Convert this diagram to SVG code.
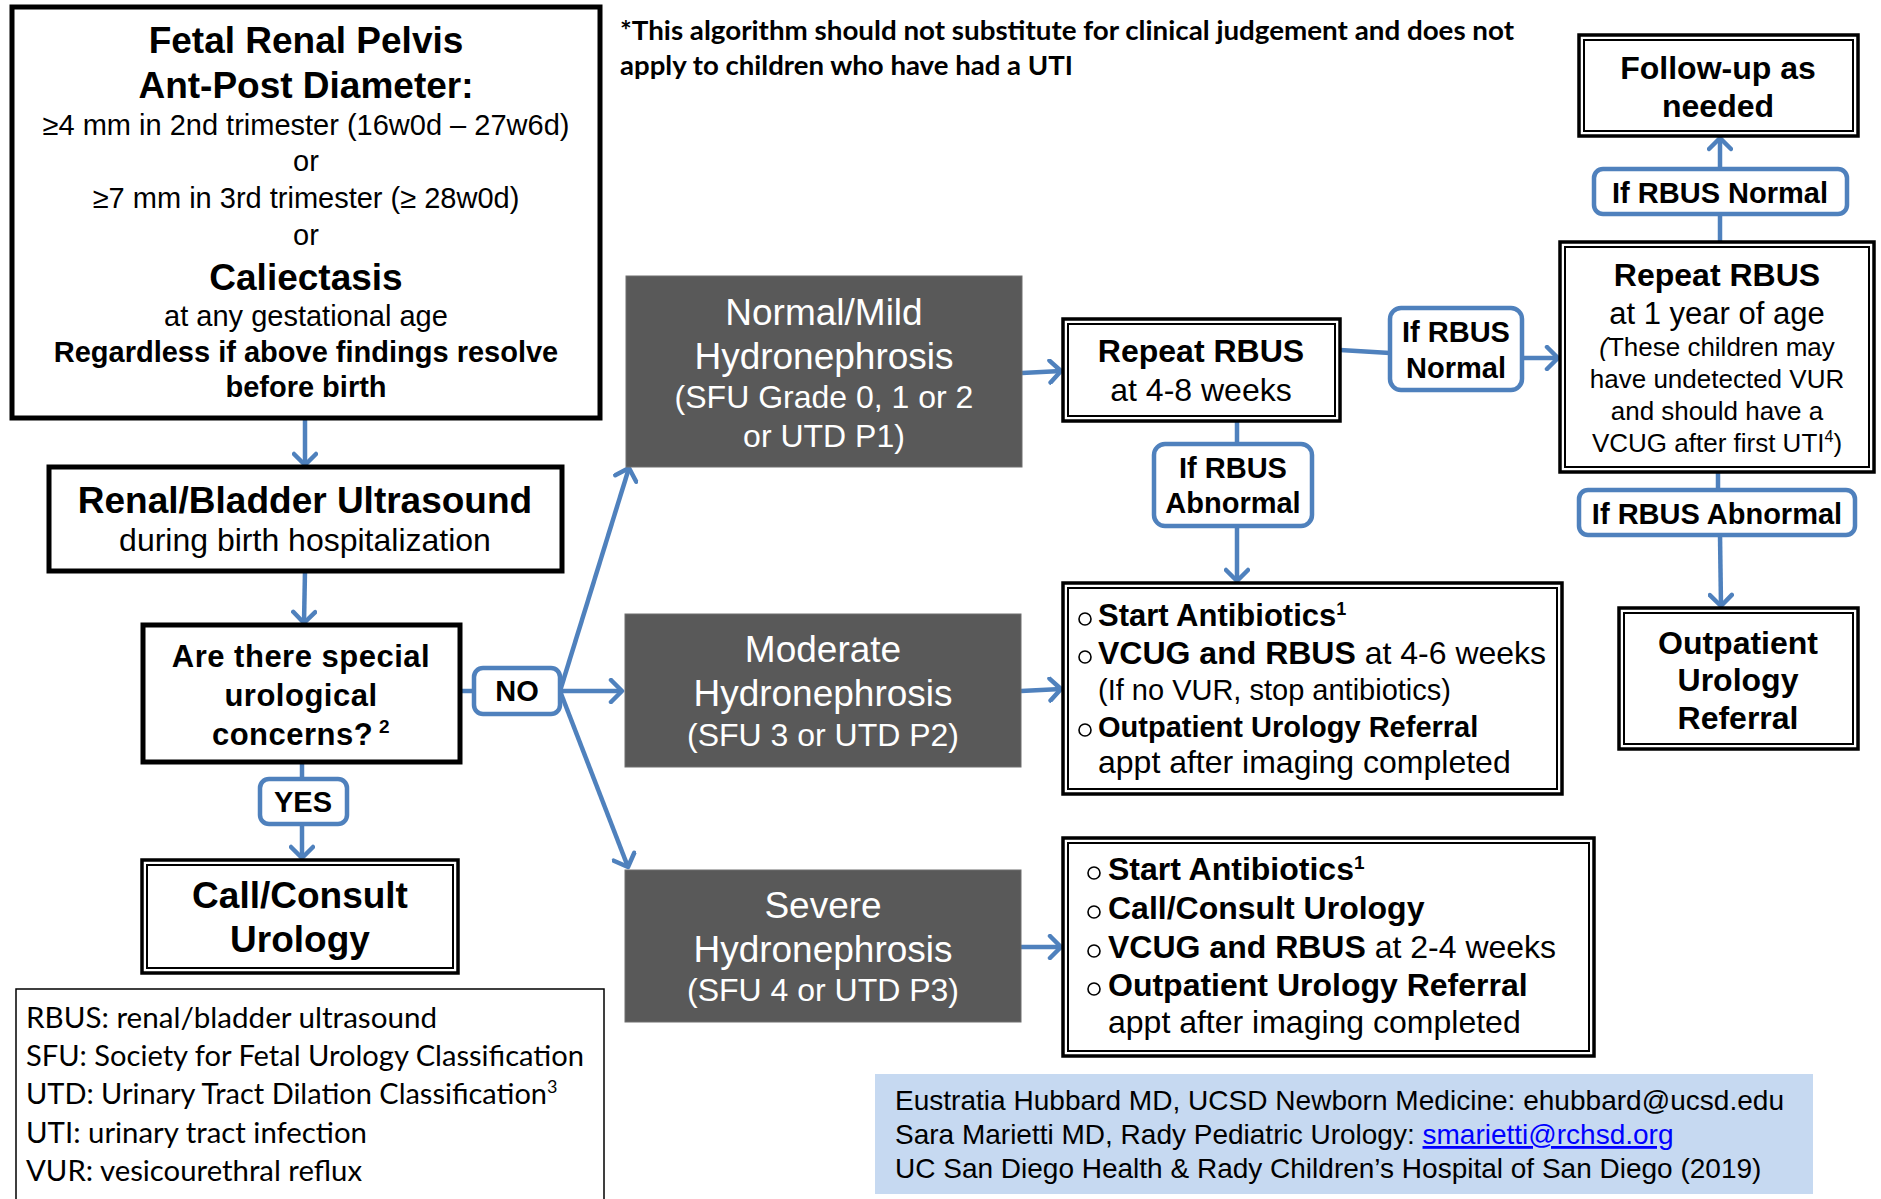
<svg xmlns="http://www.w3.org/2000/svg" width="1881" height="1199" viewBox="0 0 1881 1199">
<defs>
<style>
.b{font-family:"Liberation Sans",Arial,sans-serif;font-weight:bold;fill:#000}
.r{font-family:"Liberation Sans",Arial,sans-serif;fill:#000}
.w{font-family:"Liberation Sans",Arial,sans-serif;fill:#fff}
.c{font-family:Lato,"Open Sans",sans-serif;fill:#000}
.box{fill:#fff;stroke:#000;stroke-width:5}
.dbo{fill:#fff;stroke:#000;stroke-width:3.5}
.dbi{fill:none;stroke:#000;stroke-width:2}
.gray{fill:#595959;stroke:#6f6f6f;stroke-width:1}
.lab{fill:#fff;stroke:#4F81BD;stroke-width:4.5}
.con{fill:none;stroke:#4F81BD;stroke-width:4.5}
.bul{fill:none;stroke:#000;stroke-width:1.6}
</style>
<marker id="ah" markerUnits="userSpaceOnUse" markerWidth="26" markerHeight="26" viewBox="0 0 26 26" refX="14" refY="13" orient="auto">
<path d="M3,2 L14,13 L3,24" fill="none" stroke="#4F81BD" stroke-width="4.5" stroke-linecap="round" stroke-linejoin="round"/>
</marker>
</defs>
<rect width="1881" height="1199" fill="#fff"/>

<g id="connectors">
<path class="con" d="M305,418 L305,465" marker-end="url(#ah)"/>
<path class="con" d="M305,571 L304,623" marker-end="url(#ah)"/>
<path class="con" d="M302,762 L302,779"/>
<path class="con" d="M302,824 L302,858" marker-end="url(#ah)"/>
<path class="con" d="M460,691 L474,691"/>
<path class="con" d="M560,691 L629,468" marker-end="url(#ah)"/>
<path class="con" d="M560,691 L622,691" marker-end="url(#ah)"/>
<path class="con" d="M560,691 L628,867" marker-end="url(#ah)"/>
<path class="con" d="M1022,373 L1061,371" marker-end="url(#ah)"/>
<path class="con" d="M1340,350 L1390,353"/>
<path class="con" d="M1522,358 L1558,358" marker-end="url(#ah)"/>
<path class="con" d="M1237,421 L1237,444"/>
<path class="con" d="M1237,526 L1237,581" marker-end="url(#ah)"/>
<path class="con" d="M1021,691 L1061,689" marker-end="url(#ah)"/>
<path class="con" d="M1021,947 L1061,947" marker-end="url(#ah)"/>
<path class="con" d="M1720,242 L1720,214"/>
<path class="con" d="M1720,169 L1720,138" marker-end="url(#ah)"/>
<path class="con" d="M1718,472 L1718,490"/>
<path class="con" d="M1720,535 L1721,606" marker-end="url(#ah)"/>
</g>

<text class="b" x="620" y="40" font-size="27" style="font-family:Lato,'Open Sans',sans-serif" textLength="894" lengthAdjust="spacingAndGlyphs">*This algorithm should not substitute for clinical judgement and does not</text>
<text class="b" x="620" y="75" font-size="27" style="font-family:Lato,'Open Sans',sans-serif" textLength="453" lengthAdjust="spacingAndGlyphs">apply to children who have had a UTI</text>

<g id="fetal">
<rect class="box" x="12" y="7" width="588" height="411"/>
<text class="b" x="306" y="53" font-size="37" text-anchor="middle">Fetal Renal Pelvis</text>
<text class="b" x="306" y="98" font-size="37" text-anchor="middle">Ant-Post Diameter:</text>
<text class="r" x="306" y="135" font-size="29" text-anchor="middle">≥4 mm in 2nd trimester (16w0d – 27w6d)</text>
<text class="r" x="306" y="171" font-size="29" text-anchor="middle">or</text>
<text class="r" x="306" y="208" font-size="29" text-anchor="middle">≥7 mm in 3rd trimester (≥ 28w0d)</text>
<text class="r" x="306" y="245" font-size="29" text-anchor="middle">or</text>
<text class="b" x="306" y="290" font-size="37" text-anchor="middle">Caliectasis</text>
<text class="r" x="306" y="326" font-size="29" text-anchor="middle">at any gestational age</text>
<text class="b" x="306" y="362" font-size="29" text-anchor="middle">Regardless if above findings resolve</text>
<text class="b" x="306" y="397" font-size="29" text-anchor="middle">before birth</text>
</g>

<g id="renal">
<rect class="box" x="49" y="467" width="513" height="104"/>
<text class="b" x="305" y="513" font-size="37" text-anchor="middle">Renal/Bladder Ultrasound</text>
<text class="r" x="305" y="551" font-size="32" text-anchor="middle">during birth hospitalization</text>
</g>

<g id="question">
<rect class="box" x="143" y="625" width="317" height="137"/>
<text class="b" x="301" y="667" font-size="31" text-anchor="middle" letter-spacing="0.5">Are there special</text>
<text class="b" x="301" y="706" font-size="31" text-anchor="middle" letter-spacing="0.5">urological</text>
<text class="b" x="301" y="745" font-size="31" text-anchor="middle" letter-spacing="0.5">concerns?<tspan font-size="19" dy="-12"> 2</tspan></text>
</g>

<g id="no">
<rect class="lab" x="474" y="668" width="86" height="46" rx="9"/>
<text class="b" x="517" y="701" font-size="29" text-anchor="middle">NO</text>
</g>

<g id="yes">
<rect class="lab" x="260" y="779" width="87" height="45" rx="9"/>
<text class="b" x="303" y="812" font-size="29" text-anchor="middle">YES</text>
</g>

<g id="call">
<rect class="dbo" x="142" y="860" width="316" height="113"/>
<rect class="dbi" x="147" y="865" width="306" height="103"/>
<text class="b" x="300" y="908" font-size="37" text-anchor="middle">Call/Consult</text>
<text class="b" x="300" y="952" font-size="37" text-anchor="middle">Urology</text>
</g>

<g id="legend">
<rect x="16" y="989" width="588" height="230" fill="#fff" stroke="#000" stroke-width="1.5"/>
<text class="c" x="26" y="1028" font-size="28" textLength="411" lengthAdjust="spacingAndGlyphs">RBUS: renal/bladder ultrasound</text>
<text class="c" x="26" y="1066" font-size="28" textLength="558" lengthAdjust="spacingAndGlyphs">SFU: Society for Fetal Urology Classification</text>
<text class="c" x="26" y="1104" font-size="28"><tspan textLength="521" lengthAdjust="spacingAndGlyphs">UTD: Urinary Tract Dilation Classification</tspan><tspan font-size="18" dy="-11">3</tspan></text>
<text class="c" x="26" y="1143" font-size="28" textLength="341" lengthAdjust="spacingAndGlyphs">UTI: urinary tract infection</text>
<text class="c" x="26" y="1181" font-size="28" textLength="336" lengthAdjust="spacingAndGlyphs">VUR: vesicourethral reflux</text>
</g>

<g id="normal-mild">
<rect class="gray" x="626" y="276" width="396" height="191"/>
<text class="w" x="824" y="325" font-size="37" text-anchor="middle">Normal/Mild</text>
<text class="w" x="824" y="369" font-size="37" text-anchor="middle">Hydronephrosis</text>
<text class="w" x="824" y="408" font-size="32" text-anchor="middle">(SFU Grade 0, 1 or 2</text>
<text class="w" x="824" y="447" font-size="32" text-anchor="middle">or UTD P1)</text>
</g>

<g id="moderate">
<rect class="gray" x="625" y="614" width="396" height="153"/>
<text class="w" x="823" y="662" font-size="37" text-anchor="middle">Moderate</text>
<text class="w" x="823" y="706" font-size="37" text-anchor="middle">Hydronephrosis</text>
<text class="w" x="823" y="746" font-size="32" text-anchor="middle">(SFU 3 or UTD P2)</text>
</g>

<g id="severe">
<rect class="gray" x="625" y="870" width="396" height="152"/>
<text class="w" x="823" y="918" font-size="37" text-anchor="middle">Severe</text>
<text class="w" x="823" y="962" font-size="37" text-anchor="middle">Hydronephrosis</text>
<text class="w" x="823" y="1001" font-size="32" text-anchor="middle">(SFU 4 or UTD P3)</text>
</g>

<g id="repeat-4-8">
<rect class="dbo" x="1063" y="319" width="277" height="102"/>
<rect class="dbi" x="1068" y="324" width="267" height="92"/>
<text class="b" x="1201" y="362" font-size="32" text-anchor="middle">Repeat RBUS</text>
<text class="r" x="1201" y="401" font-size="32" text-anchor="middle">at 4-8 weeks</text>
</g>

<g id="if-normal-1">
<rect class="lab" x="1390" y="308" width="132" height="82" rx="11"/>
<text class="b" x="1456" y="342" font-size="29" text-anchor="middle">If RBUS</text>
<text class="b" x="1456" y="378" font-size="29" text-anchor="middle">Normal</text>
</g>

<g id="if-abnormal-1">
<rect class="lab" x="1154" y="444" width="158" height="82" rx="11"/>
<text class="b" x="1233" y="478" font-size="29" text-anchor="middle">If RBUS</text>
<text class="b" x="1233" y="513" font-size="29" text-anchor="middle">Abnormal</text>
</g>

<g id="moderate-plan">
<rect class="dbo" x="1063" y="583" width="499" height="211"/>
<rect class="dbi" x="1068" y="588" width="489" height="201"/>
<circle class="bul" cx="1085" cy="619" r="6"/>
<text class="b" x="1098" y="626" font-size="31">Start Antibiotics<tspan font-size="18" dy="-11">1</tspan></text>
<circle class="bul" cx="1085" cy="657" r="6"/>
<text class="r" x="1098" y="664" font-size="32"><tspan class="b">VCUG and RBUS</tspan> at 4-6 weeks</text>
<text class="r" x="1098" y="700" font-size="29">(If no VUR, stop antibiotics)</text>
<circle class="bul" cx="1085" cy="730" r="6"/>
<text class="b" x="1098" y="737" font-size="29">Outpatient Urology Referral</text>
<text class="r" x="1098" y="773" font-size="32">appt after imaging completed</text>
</g>

<g id="severe-plan">
<rect class="dbo" x="1063" y="838" width="531" height="218"/>
<rect class="dbi" x="1068" y="843" width="521" height="208"/>
<circle class="bul" cx="1094" cy="873" r="6"/>
<text class="b" x="1108" y="880" font-size="32">Start Antibiotics<tspan font-size="19" dy="-11">1</tspan></text>
<circle class="bul" cx="1094" cy="912" r="6"/>
<text class="b" x="1108" y="919" font-size="32">Call/Consult Urology</text>
<circle class="bul" cx="1094" cy="951" r="6"/>
<text class="r" x="1108" y="958" font-size="32"><tspan class="b">VCUG and RBUS</tspan> at 2-4 weeks</text>
<circle class="bul" cx="1094" cy="989" r="6"/>
<text class="b" x="1108" y="996" font-size="32">Outpatient Urology Referral</text>
<text class="r" x="1108" y="1033" font-size="32">appt after imaging completed</text>
</g>

<g id="follow-up">
<rect class="dbo" x="1579" y="35" width="279" height="101"/>
<rect class="dbi" x="1584" y="40" width="269" height="91"/>
<text class="b" x="1718" y="79" font-size="32" text-anchor="middle">Follow-up as</text>
<text class="b" x="1718" y="117" font-size="32" text-anchor="middle">needed</text>
</g>

<g id="if-normal-2">
<rect class="lab" x="1594" y="169" width="253" height="45" rx="9"/>
<text class="b" x="1720" y="203" font-size="29" text-anchor="middle">If RBUS Normal</text>
</g>

<g id="repeat-1yr">
<rect class="dbo" x="1560" y="242" width="314" height="230"/>
<rect class="dbi" x="1565" y="247" width="304" height="220"/>
<text class="b" x="1717" y="286" font-size="32" text-anchor="middle">Repeat RBUS</text>
<text class="r" x="1717" y="324" font-size="31" text-anchor="middle">at 1 year of age</text>
<text class="r" x="1717" y="356" font-size="26" text-anchor="middle"><tspan font-style="italic">(</tspan>These children may</text>
<text class="r" x="1717" y="388" font-size="26" text-anchor="middle">have undetected VUR</text>
<text class="r" x="1717" y="420" font-size="26" text-anchor="middle">and should have a</text>
<text class="r" x="1717" y="452" font-size="26" text-anchor="middle">VCUG after first UTI<tspan font-size="16" dy="-10">4</tspan><tspan dy="10">)</tspan></text>
</g>

<g id="if-abnormal-2">
<rect class="lab" x="1579" y="490" width="276" height="45" rx="9"/>
<text class="b" x="1717" y="524" font-size="29" text-anchor="middle">If RBUS Abnormal</text>
</g>

<g id="outpatient">
<rect class="dbo" x="1619" y="608" width="239" height="141"/>
<rect class="dbi" x="1624" y="613" width="229" height="131"/>
<text class="b" x="1738" y="654" font-size="32" text-anchor="middle">Outpatient</text>
<text class="b" x="1738" y="691" font-size="32" text-anchor="middle">Urology</text>
<text class="b" x="1738" y="729" font-size="32" text-anchor="middle">Referral</text>
</g>

<g id="authors">
<rect x="875" y="1074" width="938" height="120" fill="#C6D9F1"/>
<text class="r" x="895" y="1110" font-size="28" textLength="889" lengthAdjust="spacingAndGlyphs">Eustratia Hubbard MD, UCSD Newborn Medicine: ehubbard@ucsd.edu</text>
<text class="r" x="895" y="1144" font-size="28">Sara Marietti MD, Rady Pediatric Urology: <tspan fill="#0000FF" text-decoration="underline">smarietti@rchsd.org</tspan></text>
<text class="r" x="895" y="1178" font-size="28">UC San Diego Health &amp; Rady Children’s Hospital of San Diego (2019)</text>
</g>
</svg>
